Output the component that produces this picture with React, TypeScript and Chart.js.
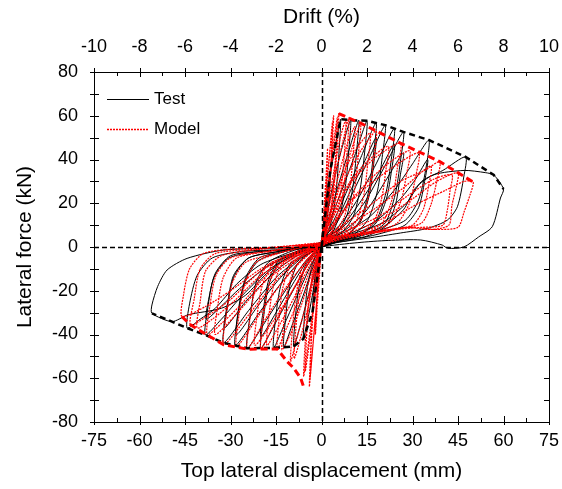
import React, { useEffect, useRef } from "react";
import { Chart, registerables } from "chart.js";

Chart.register(...registerables);

type P = [number, number];

// ---- Test (experiment) hysteresis cycles: [displacement mm, force kN]
const T1: P[] = [[0,0],[1,14],[2,26],[3,36],[2.6,24],[1.8,12],[0.8,4],[0,0],[-1,-10],[-2,-20],[-3,-30],[-2.6,-20],[-1.8,-9],[-0.8,-3],[0,0]];
const T2: P[] = [[0,2],[1.5,18],[3,34],[4.8,48],[6.3,58.4],[5.8,44],[5,28],[3.8,15],[2,6],[0,0],[-1.5,-10],[-3,-22],[-4.5,-33],[-6,-42],[-5.5,-30],[-4.6,-18],[-3,-8],[-1.2,-2],[0,2]];
const T3: P[] = [[0,3],[2,16],[4,30],[6.5,44],[9.6,58],[9,44],[8,29],[6.3,16],[3.8,7],[1,2],[0,0],[-2,-10],[-4.5,-23],[-7,-36],[-9.2,-45.5],[-8.6,-32],[-7.5,-19],[-5.5,-9],[-2.5,-3],[0,2]];
const T4: P[] = [[0,3],[2.5,14],[5.5,28],[9,44],[12.3,58],[11.6,44],[10.4,28],[8.5,15],[5.5,7],[2,2],[0,0],[-2.5,-8],[-6,-22],[-9.5,-35],[-12.5,-46],[-11.8,-32],[-10.5,-18],[-8,-8],[-4,-3],[0,2]];
const T5: P[] = [[0,3],[3,13],[7,27],[11,42],[15,57.7],[14.2,43],[12.8,27],[10.5,14],[7,7],[3,3],[0,0],[-3,-7],[-7,-19],[-11.5,-33],[-15.8,-46.1],[-15,-31],[-13.5,-18],[-10.5,-8],[-5.5,-3],[0,2]];
const T6: P[] = [[0,3],[4,12],[8.5,26],[13,41],[18,56.8],[17.1,42],[15.6,26],[13,13],[9,6],[4,3],[0,0],[-4,-7],[-9,-19],[-14.5,-33],[-20,-46.2],[-19,-31],[-17.3,-17],[-14,-7],[-8,-2],[0,2]];
const T6b: P[] = [[0,3],[4.5,11],[9,24],[13.5,37],[18,50],[17.2,38],[15.8,24],[13,12],[9,6],[4,3],[0,0],[-4.5,-6],[-9.5,-17],[-15,-30],[-20,-41],[-19.1,-28],[-17.4,-15],[-14,-6],[-8,-2],[0,2]];
const T7: P[] = [[0,3],[5,11],[10,24],[15.5,40],[21,55.7],[20,41],[18.5,26],[15.5,13],[11,6],[5,3],[0,0],[-5,-6],[-11,-18],[-18,-33],[-24.5,-46.3],[-23.5,-31],[-21.5,-16],[-17.5,-7],[-10,-2],[0,2]];
const T8: P[] = [[0,3],[6,10],[12,22],[18,38],[24,54.2],[23,40],[21.3,25],[18,12],[13,6],[6,3],[0,0],[-6,-5],[-13,-16],[-21,-31],[-28.4,-45],[-27.4,-30],[-25,-15],[-20.5,-6],[-12,-2],[0,2]];
const T8b: P[] = [[0,3],[6.5,9],[12.5,20],[18.5,33],[24,47],[23.1,35],[21.4,22],[18,11],[13,6],[6,3],[0,0],[-6.5,-5],[-13.5,-14],[-21,-27],[-28,-40],[-27.2,-27],[-25,-14],[-20.5,-5],[-12,-2],[0,2]];
const T9: P[] = [[0,3],[7,9],[14,20],[20.5,36],[27,52.6],[26,39],[24.3,24],[21,11],[15,6],[7,3],[0,0],[-7,-5],[-15,-14],[-24,-29],[-32.3,-43.8],[-31.2,-29],[-29,-14],[-24,-5],[-14,-2],[0,2]];
const T9b: P[] = [[0,3],[8,8],[15,17],[21,30],[27,43],[26,33],[24.5,20],[21.5,10],[15,5],[7,3],[0,0],[-8,-4],[-16,-12],[-25,-25],[-32,-37],[-31,-26],[-29,-13],[-24,-5],[-14,-2],[0,2]];
const T10: P[] = [[0,3],[8,7],[16,14],[24,26],[30,38],[35.4,48.9],[34.3,35],[32,21.5],[27.7,12.3],[19.5,7.8],[9.6,4],[0,1],[-8,-3],[-17,-10],[-26,-22],[-33,-33],[-38.3,-40.2],[-37.5,-28],[-35.5,-14],[-30.5,-5],[-20,-2],[-8,-1],[0,2]];
const T10b: P[] = [[0,3],[9,6],[18,12],[26,22],[31,31],[35,40],[34,30],[32,18],[27.5,10],[19,6],[9,3],[0,1],[-9,-3],[-18,-9],[-27,-19],[-33,-27],[-38,-33],[-37.2,-24],[-35,-12],[-30,-4],[-20,-2],[-8,-1],[0,2]];
const T11: P[] = [[0,3],[10,6],[20,11],[28,20],[33,30],[40,35],[47.5,41.2],[46.9,32],[44.8,18.4],[41.5,12.3],[34.9,8.5],[26,6.4],[15,4],[5,2],[0,0],[-10,-3],[-20,-8],[-28,-17],[-35,-28],[-40,-33],[-44.3,-37.1],[-43.5,-26],[-41,-13],[-36,-5],[-26,-2],[-12,-1],[0,2]];
const T12: P[] = [[0,3],[10,5],[20,9],[27,17],[31,27],[37,33],[47,35],[54,34],[56.8,32.9],[60,26.5],[59,22.4],[56.3,9.3],[51.8,4.6],[46.9,0],[41.6,-0.6],[39.8,0.9],[32.7,3.2],[22,3],[12,2],[0,0],[-10,-4],[-18,-12],[-25,-22],[-33,-28],[-44,-31],[-49.3,-34.1],[-55.9,-30.3],[-55.9,-26.5],[-54,-18],[-50.9,-10.5],[-44.3,-5.2],[-32.3,-1.4],[-15,-0.5],[0,0]];

// ---- Model hysteresis cycles
const M1: P[] = [[0,0],[0.7,15],[1.4,30],[2,45],[1.7,32],[1.2,18],[0.5,6],[0,0],[-0.7,-14],[-1.4,-27],[-2,-40],[-1.7,-28],[-1.2,-15],[-0.5,-5],[0,0]];
const M2: P[] = [[0,2],[1,16],[2,32],[3,47],[4,60],[3.5,46],[2.8,30],[1.8,15],[0.6,5],[0,0],[-1,-15],[-2,-32],[-3,-48],[-4,-63.8],[-3.6,-48],[-2.9,-30],[-1.9,-14],[-0.7,-4],[0,2]];
const M2b: P[] = [[0,1],[0.8,14],[1.8,30],[2.8,45],[3.6,57],[3.3,44],[2.6,28],[1.6,13],[0.5,3],[0,0],[-0.9,-14],[-1.9,-30],[-2.9,-46],[-3.8,-60],[-3.4,-45],[-2.7,-28],[-1.7,-12],[-0.6,-3],[0,1]];
const M3: P[] = [[0,3],[1.5,16],[3,33],[4.5,50],[5.7,61],[5.2,46],[4.3,30],[3,15],[1.2,5],[0,1],[-1.5,-13],[-3,-30],[-4.5,-46],[-5.9,-59.2],[-5.4,-44],[-4.5,-28],[-3,-13],[-1.2,-4],[0,3]];
const M3b: P[] = [[0,2],[1.2,15],[2.6,32],[4,48],[5.2,59],[4.8,45],[4,29],[2.8,14],[1,4],[0,0],[-1.4,-14],[-2.8,-31],[-4.2,-46],[-5.4,-57],[-5,-43],[-4.2,-27],[-2.8,-12],[-1,-3],[0,2]];
const M4: P[] = [[0,3],[2,15],[4.5,32],[7,48],[9,59],[8.5,45],[7.5,29],[5.8,15],[3,6],[0.5,2],[0,0],[-2.5,-12],[-5,-26],[-8,-41],[-10.2,-52.4],[-9.6,-38],[-8.5,-23],[-6.5,-10],[-3,-3],[0,2]];
const M4b: P[] = [[0,3],[1.8,17],[4,34],[6.2,50],[8,58],[7.6,44],[6.6,28],[5,14],[2.5,5],[0,1],[-2.2,-12],[-4.5,-28],[-7,-42],[-9,-51],[-8.5,-38],[-7.4,-23],[-5.6,-10],[-2.6,-3],[0,2]];
const M5: P[] = [[0,3],[3,14],[6.5,30],[10,45],[12.9,56.6],[12.2,43],[11,27],[9,14],[5.5,7],[2,3],[0,0],[-3.5,-10],[-7.5,-24],[-11.5,-37],[-14.6,-46.6],[-14,-33],[-12.8,-19],[-10,-8],[-5,-3],[0,2]];
const M5b: P[] = [[0,3],[2.5,15],[5.5,32],[8.5,47],[11,55],[10.4,42],[9.4,27],[7.6,14],[4.5,7],[1.5,3],[0,0],[-3,-11],[-6.5,-26],[-10,-39],[-13,-47],[-12.4,-34],[-11.2,-20],[-8.6,-9],[-4.2,-3],[0,2]];
const M6: P[] = [[0,3],[3.5,14],[7.5,30],[12.5,43],[18,53],[17.2,40],[15.8,25],[13,12],[8.5,6],[3.5,3],[0,0],[-5,-9],[-10,-21],[-15.5,-35],[-20,-46.6],[-19.2,-32],[-17.5,-18],[-14,-8],[-7,-3],[0,2]];
const M6b: P[] = [[0,3],[3,15],[6.5,31],[11,44],[16,52],[15.3,39],[14,24],[11.5,12],[7.5,6],[3,3],[0,0],[-4.5,-10],[-9,-23],[-14,-36],[-18,-45],[-17.3,-31],[-15.7,-17],[-12.5,-7],[-6,-2],[0,2]];
const M7: P[] = [[0,3],[4,14],[9,28],[17,40],[26,47.5],[25,36],[23.3,22],[20,11],[14,6],[6,4],[0,1],[-6,-8],[-12,-19],[-18.5,-33],[-24.5,-46.7],[-23.5,-32],[-21.6,-18],[-17.5,-8],[-9,-3],[0,2]];
const M7b: P[] = [[0,3],[4,15],[9,29],[15,39],[22,46],[21.2,35],[19.8,22],[17,11],[12,6],[5,4],[0,1],[-5,-9],[-10,-21],[-16,-34],[-22,-45],[-21.2,-31],[-19.4,-17],[-15.5,-7],[-8,-2],[0,2]];
const M8: P[] = [[0,3],[5,12],[12,24],[22,35],[32,43],[31,32],[29,20],[25,11],[18,7],[9,5],[0,1],[-8,-6],[-16,-17],[-24,-31],[-32.2,-44.7],[-31.3,-30],[-29.3,-16],[-25,-7],[-15,-3],[0,2]];
const M8b: P[] = [[0,3],[5,13],[12,25],[20,36],[29,44],[28,33],[26.2,21],[22.5,11],[16,7],[8,5],[0,1],[-7,-7],[-14,-18],[-21,-32],[-28,-45.5],[-27.2,-31],[-25.3,-17],[-21.5,-7],[-12,-2],[0,2]];
const M9: P[] = [[0,3],[7,10],[16,19],[26,30],[34,35],[39,39],[38,30],[36,19],[33,11],[25,8],[14,6],[4,4],[0,1],[-9,-5],[-18,-13],[-27,-27],[-33,-35],[-37.7,-40.2],[-36.8,-27],[-34.8,-13],[-30,-5],[-18,-2],[0,2]];
const M9b: P[] = [[0,3],[8,9],[17,17],[27,27],[36,37],[35.2,27],[33.5,17],[30,10],[22,8],[12,6],[3,4],[0,1],[-9,-6],[-18,-15],[-27,-29],[-35,-40],[-34.2,-27],[-32.4,-14],[-28,-5],[-17,-2],[0,2]];
const M10: P[] = [[0,3],[10,7],[20,13],[30,22],[38,30],[45,34],[44.5,28],[43,19],[42,10],[36,8],[28,9],[18,7],[6,5],[0,1],[-10,-4],[-20,-11],[-30,-24],[-37,-31],[-43.2,-35.6],[-42,-24],[-40,-10],[-35,-3],[-22,-1],[0,2]];
const M10b: P[] = [[0,3],[9,8],[19,14],[29,24],[37,31],[43,33],[42.4,26],[41.5,17],[40,10],[33,9],[24,8],[13,6],[3,4],[0,1],[-10,-5],[-20,-13],[-29,-25],[-36,-33],[-41,-37],[-40,-25],[-38.2,-11],[-33,-4],[-20,-1],[0,2]];
const M11: P[] = [[0,3],[12,6],[22,12],[32,20],[41,26],[47,30],[50,29.7],[49,24],[47,16],[45,9],[38,8],[30,9],[20,7],[8,4],[0,1],[-10,-3],[-20,-10],[-30,-20],[-38,-27],[-46,-31.8],[-45.5,-22],[-43.5,-10],[-39,-3],[-30,-1],[-15,0],[0,2]];

// ---- Backbone envelopes
const testEnvPos: P[] = [[0,0],[3,36],[6.3,58.4],[9.6,58],[15,57.7],[21,55.7],[27,52.6],[35.4,48.9],[47.5,41.2],[56.8,32.9],[60,26.5]];
const testEnvNeg: P[] = [[0,0],[-3,-30],[-6,-42],[-9.2,-45.5],[-15.8,-46.1],[-24.5,-46.3],[-32.3,-43.8],[-38.3,-40.2],[-44.3,-37.1],[-49.3,-34.1],[-55.9,-30.3]];
const modelEnvPos: P[] = [[5.7,61],[12.9,56.6],[26,47.5],[39,39],[50,29.7]];
const modelEnvNeg: P[] = [[-46,-31.8],[-43.2,-35.6],[-37.7,-40.2],[-32.2,-44.7],[-24.5,-46.7],[-14.6,-46.6],[-11.3,-52.4],[-9.2,-55.3],[-6.9,-59.8],[-5.9,-63.9]];

// ---- Axes
const dispTicks = [-75, -60, -45, -30, -15, 0, 15, 30, 45, 60, 75];
const driftTicks = [-10, -8, -6, -4, -2, 0, 2, 4, 6, 8, 10];
const forceTicks = [-80, -60, -40, -20, 0, 20, 40, 60, 80];

const testCycles = [T1, T2, T3, T4, T5, T6, T6b, T7, T8, T8b, T9, T9b, T10, T10b, T11, T12];
const modelCycles = [M1, M2, M2b, M3, M3b, M4, M4b, M5, M5b, M6, M6b, M7, M7b, M8, M8b, M9, M9b, M10, M10b, M11];

const FONT = "'Liberation Sans', Arial, sans-serif";
const RED = "#ff0000";

const toXY = (a: P[]) => a.map(([x, y]) => ({ x, y }));
const mids = (a: number[]) => a.slice(0, -1).map((v, i) => (v + a[i + 1]) / 2);

const axisTicks = {
  id: "axisTicks",
  afterDraw(chart: any) {
    const { ctx, chartArea } = chart;
    const { left, right, top, bottom } = chartArea;
    const sx = chart.scales.x, sx2 = chart.scales.x2, sy = chart.scales.y;
    ctx.save();
    ctx.strokeStyle = "#000";
    ctx.lineWidth = 1;
    ctx.setLineDash([]);
    ctx.beginPath();
    dispTicks.forEach((v) => { const p = Math.round(sx.getPixelForValue(v)) + 0.5; ctx.moveTo(p, bottom + 3); ctx.lineTo(p, bottom - 6); });
    mids(dispTicks).forEach((v) => { const p = Math.round(sx.getPixelForValue(v)) + 0.5; ctx.moveTo(p, bottom); ctx.lineTo(p, bottom - 4); });
    driftTicks.forEach((v) => { const p = Math.round(sx2.getPixelForValue(v)) + 0.5; ctx.moveTo(p, top - 4); ctx.lineTo(p, top + 5); });
    mids(driftTicks).forEach((v) => { const p = Math.round(sx2.getPixelForValue(v)) + 0.5; ctx.moveTo(p, top); ctx.lineTo(p, top + 4); });
    [...forceTicks, ...mids(forceTicks)].forEach((v) => {
      const p = Math.round(sy.getPixelForValue(v)) + 0.5;
      ctx.moveTo(left - 4, p); ctx.lineTo(left + 5, p);
      ctx.moveTo(right, p); ctx.lineTo(right - 5, p);
    });
    ctx.stroke();
    ctx.restore();
  },
};

const zeroLines = {
  id: "zeroLines",
  afterDatasetsDraw(chart: any) {
    const { ctx, chartArea } = chart;
    const { left, right, top, bottom } = chartArea;
    const x0 = Math.round(chart.scales.x.getPixelForValue(0)) + 0.5;
    const y0 = Math.round(chart.scales.y.getPixelForValue(0)) + 0.5;
    ctx.save();
    ctx.strokeStyle = "#000";
    ctx.lineWidth = 1.5;
    ctx.setLineDash([5, 3]);
    ctx.beginPath();
    ctx.moveTo(x0, top); ctx.lineTo(x0, bottom);
    ctx.moveTo(left, y0); ctx.lineTo(right, y0);
    ctx.stroke();
    ctx.restore();
  },
};

const legendBox = {
  id: "legendBox",
  afterDraw(chart: any) {
    const { ctx, chartArea } = chart;
    const { left, top } = chartArea;
    ctx.save();
    ctx.font = `17px ${FONT}`;
    ctx.fillStyle = "#000";
    ctx.textBaseline = "middle";
    ctx.lineWidth = 1;
    ctx.setLineDash([]);
    ctx.strokeStyle = "#000";
    ctx.beginPath();
    ctx.moveTo(left + 13, top + 27.5); ctx.lineTo(left + 55, top + 27.5);
    ctx.stroke();
    ctx.fillText("Test", left + 60, top + 27.5);
    ctx.strokeStyle = RED;
    ctx.lineWidth = 1.5;
    ctx.setLineDash([2, 1]);
    ctx.beginPath();
    ctx.moveTo(left + 13, top + 57.5); ctx.lineTo(left + 55, top + 57.5);
    ctx.stroke();
    ctx.setLineDash([]);
    ctx.fillText("Model", left + 60, top + 57.5);
    ctx.restore();
  },
};

const noPad = (s: any) => { s.paddingLeft = 0; s.paddingRight = 0; };

export default function App() {
  const ref = useRef<HTMLCanvasElement | null>(null);
  useEffect(() => {
    if (!ref.current) return;
    const tickFont = { family: FONT, size: 18 };
    const titleFont = { family: FONT, size: 21 };
    const chart = new Chart(ref.current, {
      type: "scatter",
      data: {
        datasets: [
          { label: "Model envelope", data: toXY(modelEnvPos), showLine: true, borderColor: RED, borderWidth: 3, borderDash: [7, 4], pointRadius: 0, tension: 0 } as any,
          { label: "Model envelope neg", data: toXY(modelEnvNeg), showLine: true, borderColor: RED, borderWidth: 3, borderDash: [7, 4], pointRadius: 0, tension: 0 } as any,
          { label: "Test envelope", data: toXY(testEnvPos), showLine: true, borderColor: "#000", borderWidth: 2.5, borderDash: [6, 4], pointRadius: 0, tension: 0 } as any,
          { label: "Test envelope neg", data: toXY(testEnvNeg), showLine: true, borderColor: "#000", borderWidth: 2.5, borderDash: [6, 4], pointRadius: 0, tension: 0 } as any,
          { label: "Model", data: toXY(modelCycles.flat() as P[]), showLine: true, borderColor: RED, borderWidth: 1.2, borderDash: [2, 1], pointRadius: 0, tension: 0.25 } as any,
          { label: "Test", data: toXY(testCycles.flat() as P[]), showLine: true, borderColor: "#000", borderWidth: 1, pointRadius: 0, tension: 0.25 } as any,
        ],
      },
      options: {
        responsive: false,
        animation: false,
        layout: { padding: 0, autoPadding: false },
        plugins: { legend: { display: false }, tooltip: { enabled: false } },
        scales: {
          x: {
            type: "linear", position: "bottom", min: -75, max: 75,
            afterBuildTicks: (s: any) => { s.ticks = dispTicks.map((v) => ({ value: v })); },
            ticks: { font: tickFont, color: "#000", padding: 8, maxRotation: 0, autoSkip: false },
            grid: { display: false, drawTicks: false },
            border: { display: true, color: "#000", width: 1 },
            title: { display: true, text: "Top lateral displacement (mm)", font: titleFont, color: "#000", padding: { top: 0, bottom: 5 } },
            afterFit: (s: any) => { s.height = 67; noPad(s); },
          },
          x2: {
            type: "linear", position: "top", min: -10, max: 10,
            afterBuildTicks: (s: any) => { s.ticks = driftTicks.map((v) => ({ value: v })); },
            ticks: { font: tickFont, color: "#000", padding: 14, maxRotation: 0, autoSkip: false },
            grid: { display: false, drawTicks: false },
            border: { display: true, color: "#000", width: 1 },
            title: { display: true, text: "Drift (%)", font: titleFont, color: "#000", padding: { top: 5, bottom: 0 } },
            afterFit: (s: any) => { s.height = 72; noPad(s); },
          },
          y: {
            type: "linear", position: "left", min: -80, max: 80,
            afterBuildTicks: (s: any) => { s.ticks = forceTicks.map((v) => ({ value: v })); },
            ticks: { font: tickFont, color: "#000", padding: 16, autoSkip: false },
            grid: { display: false, drawTicks: false },
            border: { display: true, color: "#000", width: 1 },
            title: { display: true, text: "Lateral force (kN)", font: titleFont, color: "#000", padding: { top: 13, bottom: 0 } },
            afterFit: (s: any) => { s.width = 94; s.paddingTop = 0; s.paddingBottom = 0; },
          },
          y2: {
            type: "linear", position: "right", min: -80, max: 80,
            ticks: { display: false },
            grid: { display: false, drawTicks: false },
            border: { display: true, color: "#000", width: 1 },
            afterFit: (s: any) => { s.width = 13; s.paddingTop = 0; s.paddingBottom = 0; },
          },
        },
      } as any,
      plugins: [zeroLines, axisTicks, legendBox],
    });
    return () => chart.destroy();
  }, []);
  return (
    <div style={{ position: "fixed", left: 0, top: 0, width: 562, height: 489, background: "#fff" }}>
      <canvas ref={ref} width={562} height={489} style={{ display: "block" }} />
    </div>
  );
}
